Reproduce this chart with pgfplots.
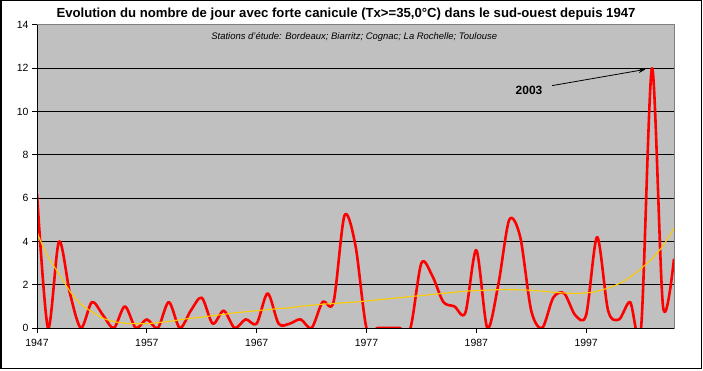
\documentclass[border=0pt]{standalone}
\usepackage{fontspec}
\setmainfont{Liberation Sans}
\usepackage{pgfplots}
\pgfplotsset{compat=1.18}
\usetikzlibrary{arrows.meta}
\definecolor{plotbg}{RGB}{192,192,192}
\definecolor{trend}{RGB}{255,204,0}
\definecolor{bordergray}{RGB}{128,128,128}
\begin{document}
\begin{tikzpicture}[x=1bp,y=1bp]
\path[use as bounding box] (0,0) rectangle (703,370);
\draw[black, line width=1.5bp] (0.75,1.75) rectangle (701.25,369.25);
\node[font=\bfseries\fontsize{13.2}{15}\selectfont] at (346,355.5) {Evolution du nombre de jour avec forte canicule (Tx>=35,0°C) dans le sud-ouest depuis 1947};
\begin{axis}[
  name=ax,
  at={(37bp,42bp)}, anchor=south west,
  width=637bp, height=303bp, scale only axis,
  xmin=1947, xmax=2005, ymin=0, ymax=14,
  axis background/.style={fill=plotbg},
  axis line style={bordergray, line width=1bp},
  clip mode=individual,
  tick pos=left, tick align=outside,
  major tick length=5bp,
  major tick style={black, line width=1bp},
  minor tick num=0,
  xtick={1947,1957,1967,1977,1987,1997},
  xticklabels={1947,1957,1967,1977,1987,1997},
  ytick={0,2,4,6,8,10,12,14},
  yticklabels={0,2,4,6,8,10,12,14},
  ticklabel style={font=\fontsize{10.5}{12}\selectfont},
  xticklabel style={yshift=-2.5bp},
  ymajorgrids, major grid style={black, line width=1bp},
]
\addplot[red, line width=2.6bp, smooth, line join=round] coordinates {
(1947,6.2) (1948,0) (1949,4.0) (1950,1.6) (1951,0) (1952,1.2) (1953,0.6) (1954,0)
(1955,1.0) (1956,0) (1957,0.4) (1958,0) (1959,1.2) (1960,0) (1961,0.8) (1962,1.4)
(1963,0.2) (1964,0.8) (1965,0) (1966,0.4) (1967,0.2) (1968,1.6) (1969,0.2) (1970,0.2)
(1971,0.4) (1972,0) (1973,1.2) (1974,1.2) (1975,5.2) (1976,3.8) (1977,0) (1978,0)
(1979,0) (1980,0) (1981,0) (1982,3.0) (1983,2.4) (1984,1.2) (1985,1.0) (1986,0.7)
(1987,3.6) (1988,0) (1989,2.0) (1990,5.0) (1991,4.2) (1992,0.8) (1993,0) (1994,1.4)
(1995,1.6) (1996,0.6) (1997,0.6) (1998,4.2) (1999,0.8) (2000,0.4) (2001,1.2) (2002,0)
(2003,12.0) (2004,1.0) (2005,3.2)
};
\addplot[trend, line width=1.1bp, smooth] coordinates {
(1947,4.4) (1948,3.3) (1949,2.5) (1950,1.7) (1951,1.1) (1952,0.75) (1953,0.45) (1954,0.3)
(1955,0.22) (1956,0.2) (1957,0.2) (1958,0.25) (1959,0.3) (1960,0.38) (1961,0.45) (1962,0.5)
(1963,0.57) (1964,0.63) (1965,0.7) (1966,0.75) (1967,0.8) (1968,0.85) (1969,0.9) (1970,0.93)
(1971,1.0) (1972,1.05) (1973,1.1) (1974,1.13) (1975,1.17) (1976,1.2) (1977,1.25) (1978,1.3)
(1979,1.35) (1980,1.4) (1981,1.45) (1982,1.5) (1983,1.55) (1984,1.6) (1985,1.65) (1986,1.7)
(1987,1.73) (1988,1.75) (1989,1.77) (1990,1.77) (1991,1.76) (1992,1.74) (1993,1.7) (1994,1.65)
(1995,1.62) (1996,1.6) (1997,1.62) (1998,1.7) (1999,1.85) (2000,2.05) (2001,2.35) (2002,2.75)
(2003,3.2) (2004,3.8) (2005,4.6)
};
\node[font=\itshape\fontsize{9.5}{11}\selectfont] at (rel axis cs:0.498,0.96) {Stations d'étude: Bordeaux; Biarritz; Cognac; La Rochelle; Toulouse};
\node[font=\bfseries\fontsize{12}{14}\selectfont] at (axis cs:1991.8,11.0) {2003};
\draw[-{Stealth[length=7bp,width=5bp]}, line width=0.8bp] (axis cs:1993.9,11.2) -- (axis cs:2002.4,11.95);
\end{axis}
\draw[black, line width=1bp] (ax.north west) -- (ax.south west) -- (ax.south east);
\end{tikzpicture}
\end{document}
